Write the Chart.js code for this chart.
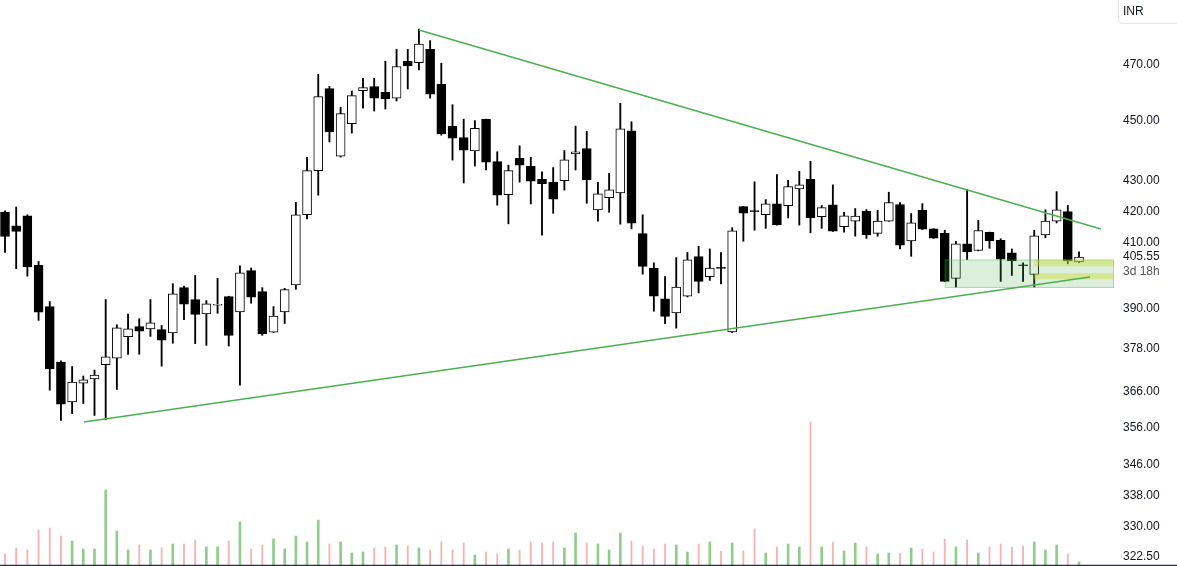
<!DOCTYPE html>
<html>
<head>
<meta charset="utf-8">
<title>Candles</title>
<script src="https://cdn.jsdelivr.net/npm/chart.js@4.4.1/dist/chart.umd.min.js"></script>
<style>
  html, body { margin: 0; padding: 0; background: #fff; }
  #wrap { width: 1177px; height: 566px; }
</style>
</head>
<body>
<div id="wrap"><canvas id="chart" width="1177" height="566"></canvas></div>
<script>
// daily bars, oldest first
const opens = [419.8, 415.4, 418.6, 403.0, 390.5, 374.3, 363.0, 368.3, 369.5, 373.5,
  375.4, 381.6, 384.6, 383.9, 383.7, 382.7, 396.2, 392.6, 388.3, 390.9,
  393.5, 388.9, 401.4, 395.0, 382.9, 388.9, 397.0, 418.9, 433.3, 461.4,
  438.1, 449.1, 460.6, 462.1, 460.0, 458.0, 471.1, 470.6, 475.4, 462.9,
  448.2, 444.4, 439.9, 450.6, 436.3, 425.4, 437.4, 434.7, 430.4, 429.4,
  430.0, 438.9, 440.7, 420.5, 424.4, 426.0, 446.7, 412.9, 402.2, 392.8,
  388.6, 393.6, 405.7, 399.5, 402.3, 383.0, 421.5, 420.0, 418.9, 422.4,
  421.8, 427.3, 430.4, 418.3, 422.1, 415.1, 416.9, 420.0, 413.0, 416.9,
  422.2, 410.6, 420.3, 414.4, 413.0, 399.0, 409.7, 407.6, 413.3, 410.8,
  406.9, 403.1, 400.2, 412.5, 416.9, 419.9, 404.1];
const highs = [420.2, 421.4, 418.9, 404.2, 392.0, 374.6, 373.0, 370.3, 372.0, 392.6,
  385.1, 388.3, 386.9, 392.6, 384.9, 397.4, 396.7, 399.9, 392.3, 399.0,
  393.6, 402.9, 402.2, 396.2, 390.5, 396.0, 422.9, 437.7, 466.4, 462.1,
  454.8, 460.5, 465.0, 465.0, 471.1, 475.4, 475.4, 482.8, 478.6, 470.4,
  455.7, 450.7, 450.2, 450.7, 439.6, 435.1, 441.6, 437.7, 432.9, 434.3,
  440.0, 448.3, 446.5, 429.4, 432.4, 456.2, 449.8, 418.9, 403.8, 399.6,
  405.4, 407.0, 408.9, 408.1, 407.0, 414.8, 421.6, 429.6, 423.8, 432.0,
  430.1, 433.1, 436.4, 421.9, 428.6, 419.7, 420.9, 420.6, 420.3, 426.2,
  422.8, 419.3, 422.5, 414.5, 414.0, 410.5, 427.1, 417.1, 413.4, 411.3,
  408.1, 403.8, 414.0, 420.5, 426.4, 421.9, 407.2];
const lows = [407.0, 402.0, 399.7, 386.4, 366.3, 357.9, 359.8, 362.6, 359.3, 358.1,
  366.5, 376.5, 376.5, 381.7, 373.1, 379.7, 386.6, 379.6, 379.1, 388.5,
  378.9, 367.7, 391.5, 382.0, 382.8, 385.5, 395.7, 417.6, 425.2, 442.9,
  437.8, 445.9, 454.5, 453.5, 454.2, 457.0, 461.2, 468.0, 458.0, 445.2,
  436.8, 429.2, 434.8, 433.5, 422.0, 416.0, 429.5, 422.4, 412.4, 419.4,
  426.9, 433.5, 422.6, 416.9, 419.7, 415.9, 414.4, 400.3, 389.1, 385.4,
  384.1, 393.4, 394.6, 398.4, 397.3, 382.8, 410.5, 414.0, 414.6, 415.6,
  417.9, 415.6, 413.2, 414.6, 413.6, 413.4, 412.1, 411.4, 412.1, 416.8,
  408.1, 405.8, 414.2, 411.4, 398.0, 396.4, 404.8, 407.5, 408.3, 398.1,
  399.9, 398.1, 396.4, 411.6, 416.3, 403.5, 403.8];
const closes = [412.0, 413.6, 402.5, 388.8, 372.3, 362.4, 368.6, 369.2, 370.6, 375.8,
  384.2, 383.9, 383.2, 385.7, 380.6, 394.3, 391.2, 388.2, 391.3, 391.1,
  382.0, 400.7, 393.3, 382.5, 387.7, 395.6, 418.9, 433.3, 458.5, 446.3,
  452.6, 458.9, 461.7, 458.0, 457.7, 469.2, 469.4, 477.3, 459.4, 445.6,
  444.2, 440.1, 447.5, 436.1, 425.2, 433.3, 435.1, 429.8, 429.0, 423.9,
  436.9, 439.6, 430.2, 425.7, 427.0, 447.4, 416.2, 402.7, 393.6, 387.6,
  396.4, 404.7, 398.1, 402.2, 402.1, 413.8, 419.4, 419.9, 422.4, 415.7,
  428.0, 428.6, 417.9, 421.2, 413.7, 418.6, 418.5, 412.5, 416.9, 422.8,
  409.3, 416.3, 414.3, 411.5, 398.1, 409.7, 407.2, 413.9, 410.6, 404.9,
  404.4, 402.9, 412.2, 416.9, 420.5, 404.4, 405.55];
// volume, thousands of shares
const volumes = [110, 170, 150, 350, 370, 290, 240, 160, 160, 750,
  340, 150, 200, 150, 170, 210, 210, 250, 180, 180,
  240, 430, 160, 200, 260, 160, 290, 230, 450, 210,
  230, 120, 130, 170, 180, 200, 190, 170, 150, 230,
  150, 220, 100, 130, 110, 160, 150, 230, 220, 230,
  170, 320, 220, 210, 150, 320, 240, 190, 160, 210,
  200, 130, 210, 230, 140, 220, 140, 360, 120, 180,
  210, 180, 1430, 180, 230, 140, 220, 180, 110, 120,
  120, 170, 160, 130, 260, 180, 250, 120, 180, 210,
  180, 190, 230, 150, 200, 110, 30];

const priceTicks = [470, 450, 430, 420, 410, 405.55, 390, 378, 366, 356, 346, 338, 330, 322.5];
const lastPrice = 405.55;
const countdown = '3d 18h';
const currency = 'INR';

// trend lines as [bar index, price]
const upperTrend = [[37, 482.5], [97.97, 414.4]];
const lowerTrend = [[7.06, 357.5], [96.98, 399.4]];

// [from index, to index, top price, bottom price]
const zone = [84, 99.2, 404.8, 396.1];
const bands = [[92, 99.2, 404.8, 402.7], [92, 99.2, 400.6, 398.7]];

const idx = opens.map((_, i) => i);
const isUp = idx.map(i => closes[i] >= opens[i]);

Chart.defaults.font.family = "'Liberation Sans', Arial, sans-serif";
Chart.defaults.font.size = 12;
Chart.defaults.color = '#131722';

const zonePlugin = {
  id: 'zones',
  afterDatasetDraw(chart, args) {
    if (chart.data.datasets[args.index].label !== 'bodies') return;
    const { ctx, chartArea } = chart;
    const x = chart.scales.x, y = chart.scales.y;
    const rect = (r) => {
      const x0 = x.getPixelForValue(r[0]);
      const x1 = Math.min(x.getPixelForValue(r[1]), chartArea.right + 1);
      const y0 = y.getPixelForValue(r[2]);
      const y1 = y.getPixelForValue(r[3]);
      return [x0, y0, x1 - x0, y1 - y0];
    };
    ctx.save();
    const z = rect(zone);
    ctx.fillStyle = 'rgba(76, 175, 80, 0.2)';
    ctx.fillRect(...z);
    ctx.strokeStyle = 'rgba(76, 175, 80, 0.35)';
    ctx.lineWidth = 1;
    ctx.strokeRect(z[0] + 0.5, z[1] + 0.5, z[2] - 1, z[3] - 1);
    ctx.fillStyle = 'rgba(205, 220, 57, 0.45)';
    bands.forEach(b => ctx.fillRect(...rect(b)));
    ctx.restore();
  }
};

const extrasPlugin = {
  id: 'extras',
  afterDraw(chart) {
    const { ctx, chartArea } = chart;
    const y = chart.scales.y;
    ctx.save();
    // countdown under the last price label
    ctx.font = "12px 'Liberation Sans', Arial, sans-serif";
    ctx.fillStyle = '#50535e';
    ctx.textBaseline = 'middle';
    ctx.textAlign = 'left';
    ctx.fillText(countdown, chartArea.right + 10, y.getPixelForValue(lastPrice) + 15);
    // currency box
    ctx.strokeStyle = '#e0e3eb';
    ctx.beginPath();
    ctx.moveTo(chartArea.right + 5.5, -1);
    ctx.lineTo(chartArea.right + 5.5, 19.5);
    ctx.arcTo(chartArea.right + 5.5, 23.5, chartArea.right + 9.5, 23.5, 4);
    ctx.lineTo(chart.width + 2, 23.5);
    ctx.stroke();
    ctx.fillStyle = '#131722';
    ctx.fillText(currency, chartArea.right + 10, 12);
    // bottom border
    ctx.strokeStyle = '#2a2e39';
    ctx.lineWidth = 1.5;
    ctx.beginPath();
    ctx.moveTo(0, chartArea.bottom + 0.5);
    ctx.lineTo(chart.width, chartArea.bottom + 0.5);
    ctx.stroke();
    ctx.restore();
  }
};

const noPad = s => {
  s.paddingTop = 0;
  s.paddingBottom = 0;
  s.paddingLeft = 0;
  s.paddingRight = 0;
};

new Chart(document.getElementById('chart'), {
  type: 'bar',
  data: {
    datasets: [
      {
        label: 'upper',
        type: 'line',
        data: upperTrend.map(p => ({ x: p[0], y: p[1] })),
        borderColor: '#4caf50',
        borderWidth: 1.5,
        pointRadius: 0,
        order: 1
      },
      {
        label: 'lower',
        type: 'line',
        data: lowerTrend.map(p => ({ x: p[0], y: p[1] })),
        borderColor: '#4caf50',
        borderWidth: 1.5,
        pointRadius: 0,
        order: 1
      },
      {
        label: 'bodies',
        data: idx.map(i => ({ x: i, y: [opens[i], closes[i]] })),
        backgroundColor: idx.map(i => isUp[i] ? '#ffffff' : '#000000'),
        borderColor: '#000000',
        borderWidth: 1,
        borderSkipped: false,
        barThickness: 9,
        minBarLength: 1,
        grouped: false,
        order: 3
      },
      {
        label: 'wicks',
        data: idx.map(i => ({ x: i, y: [lows[i], highs[i]] })),
        backgroundColor: '#000000',
        barThickness: 1.2,
        grouped: false,
        order: 4
      },
      {
        label: 'volUp',
        yAxisID: 'vol',
        data: idx.filter(i => isUp[i]).map(i => ({ x: i, y: volumes[i] })),
        backgroundColor: '#90cd8c',
        barThickness: 2,
        grouped: false,
        order: 5
      },
      {
        label: 'volDown',
        yAxisID: 'vol',
        data: idx.filter(i => !isUp[i]).map(i => ({ x: i, y: volumes[i] })),
        backgroundColor: '#f7b3b3',
        barThickness: 1.2,
        grouped: false,
        order: 5
      }
    ]
  },
  options: {
    responsive: false,
    animation: false,
    devicePixelRatio: 1,
    layout: { padding: { left: 0, right: 0, top: 0, bottom: 1 } },
    plugins: {
      legend: { display: false },
      tooltip: { enabled: false }
    },
    scales: {
      x: {
        type: 'linear',
        display: false,
        offset: false,
        grid: { offset: false },
        bounds: 'data',
        min: -0.447,
        max: 99.04,
        afterFit: noPad
      },
      y: {
        type: 'logarithmic',
        position: 'right',
        bounds: 'data',
        min: 320.46,
        max: 493.7,
        grid: { display: false, drawTicks: false },
        border: { display: false },
        afterBuildTicks: s => { s.ticks = priceTicks.map(v => ({ value: v })); },
        afterFit: s => { s.width = 64; noPad(s); },
        ticks: {
          autoSkip: false,
          padding: 10,
          color: '#131722',
          callback: v => Number(v).toFixed(2)
        }
      },
      vol: {
        type: 'linear',
        display: false,
        min: 0,
        max: 5650,
        afterFit: noPad
      }
    }
  },
  plugins: [zonePlugin, extrasPlugin]
});
</script>
</body>
</html>
